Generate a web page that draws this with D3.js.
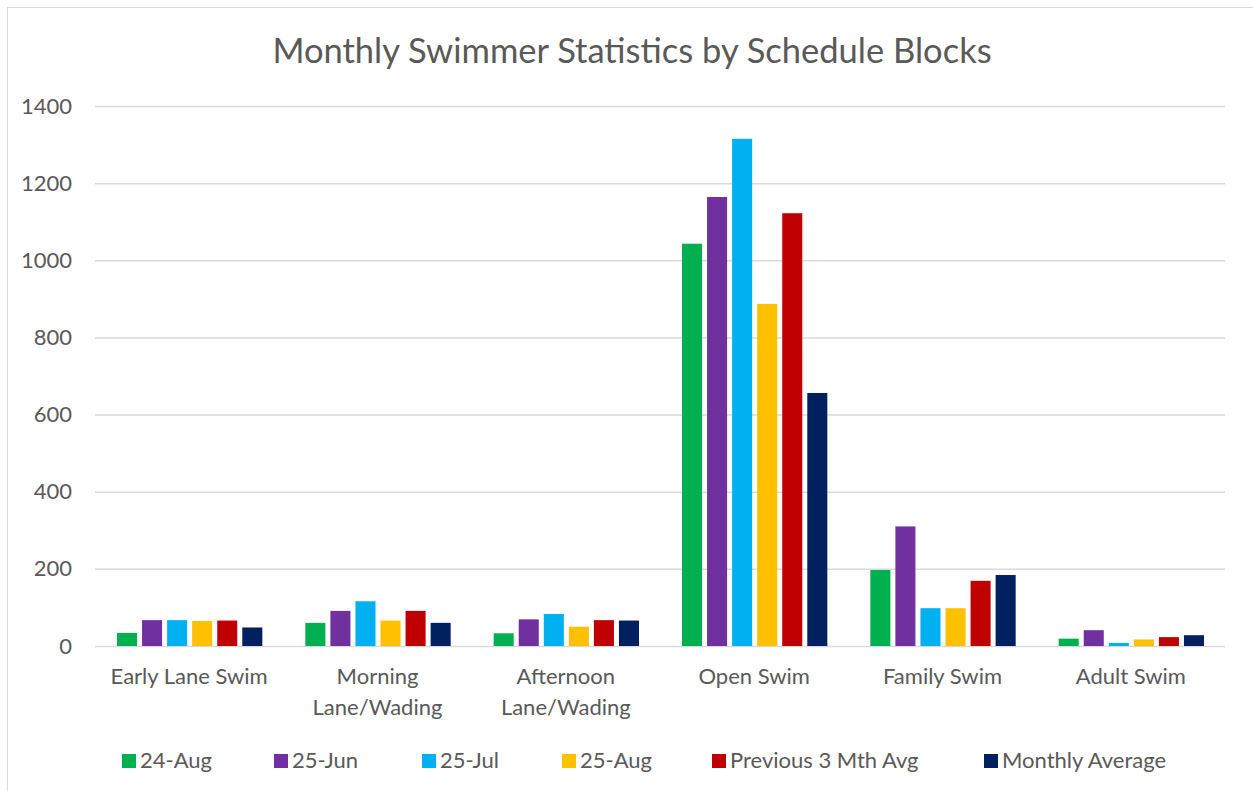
<!DOCTYPE html>
<html>
<head>
<meta charset="utf-8">
<script src="https://cdn.jsdelivr.net/npm/d3@7"></script>
<style>
  body { margin: 0; background: #fff; }
  text { font-family: Lato, "Open Sans", sans-serif; fill: #595959; }
</style>
</head>
<body>
<div id="chart"></div>
<script>
var title = "Monthly Swimmer Statistics by Schedule Blocks";
var categories = [["Early Lane Swim"], ["Morning", "Lane/Wading"], ["Afternoon", "Lane/Wading"],
                  ["Open Swim"], ["Family Swim"], ["Adult Swim"]];
var seriesNames = ["24-Aug", "25-Jun", "25-Jul", "25-Aug", "Previous 3 Mth Avg", "Monthly Average"];
var seriesColors = ["#00B050", "#7030A0", "#00B0F0", "#FFC000", "#C00000", "#002060"];
var aug24 = [34, 60, 33, 1043, 197, 19];
var jun25 = [67, 91, 69, 1164, 310, 41];
var jul25 = [67, 116, 83, 1315, 98, 8];
var aug25 = [65, 66, 50, 887, 98, 17];
var prev3 = [66, 91, 67, 1122, 169, 23];
var monthlyAvg = [48, 60, 66, 656, 184, 28];
var yTicks = [0, 200, 400, 600, 800, 1000, 1200, 1400];

var allSeries = [aug24, jun25, jul25, aug25, prev3, monthlyAvg];
var width = 1253, height = 791;

var svg = d3.select("#chart")
    .append("svg")
    .attr("width", width)
    .attr("height", height);

// chart frame
svg.append("rect")
    .attr("x", 7.5).attr("y", 7.5)
    .attr("width", width).attr("height", height)
    .attr("fill", "none")
    .attr("stroke", "#d9d9d9");

var x0 = d3.scaleBand()
    .domain(d3.range(categories.length))
    .range([95, 1225]);

var x1 = d3.scaleBand()
    .domain(d3.range(seriesNames.length))
    .range([22, x0.bandwidth() - 21])
    .paddingInner(0.2);

var y = d3.scaleLinear()
    .domain([0, 1400])
    .range([646, 106]);

// gridlines + y labels
var yAxis = svg.append("g")
    .attr("transform", "translate(95,0)")
    .call(d3.axisLeft(y).tickValues(yTicks).tickFormat(d3.format("d")).tickSize(-1130).tickPadding(23));
yAxis.select(".domain").remove();
yAxis.selectAll(".tick line").attr("stroke", "#d9d9d9").attr("stroke-width", 1.5);
yAxis.selectAll(".tick text")
    .attr("font-size", 22)
    .attr("font-family", "Lato, sans-serif")
    .attr("fill", "#595959");

// bars
var groups = svg.selectAll("g.cat")
    .data(categories)
    .enter().append("g")
    .attr("class", "cat")
    .attr("transform", function(d, i) { return "translate(" + x0(i) + ",0)"; });

groups.selectAll("rect")
    .data(function(d, i) { return allSeries.map(function(s, j) { return { j: j, v: s[i] }; }); })
    .enter().append("rect")
    .attr("x", function(d) { return x1(d.j); })
    .attr("width", x1.bandwidth())
    .attr("y", function(d) { return y(d.v); })
    .attr("height", function(d) { return y(0) - y(d.v); })
    .attr("fill", function(d) { return seriesColors[d.j]; });

// category labels
categories.forEach(function(lines, i) {
    var t = svg.append("text")
        .attr("text-anchor", "middle")
        .attr("font-size", 22)
        .attr("x", x0(i) + x0.bandwidth() / 2)
        .attr("y", 684);
    lines.forEach(function(l, k) {
        t.append("tspan")
            .attr("x", x0(i) + x0.bandwidth() / 2)
            .attr("dy", k === 0 ? 0 : 31)
            .text(l);
    });
});

// title
svg.append("text")
    .attr("x", 632)
    .attr("y", 63)
    .attr("text-anchor", "middle")
    .attr("font-size", 34.5)
    .text(title);

// legend
var legendX = [122, 274, 422, 562, 712, 984];
var legend = svg.selectAll("g.legend")
    .data(seriesNames)
    .enter().append("g")
    .attr("class", "legend")
    .attr("transform", function(d, i) { return "translate(" + legendX[i] + ",754)"; });
legend.append("rect")
    .attr("width", 14).attr("height", 14)
    .attr("fill", function(d, i) { return seriesColors[i]; });
legend.append("text")
    .attr("x", 18)
    .attr("y", 14)
    .attr("font-size", 22)
    .text(function(d) { return d; });
</script>
</body>
</html>
